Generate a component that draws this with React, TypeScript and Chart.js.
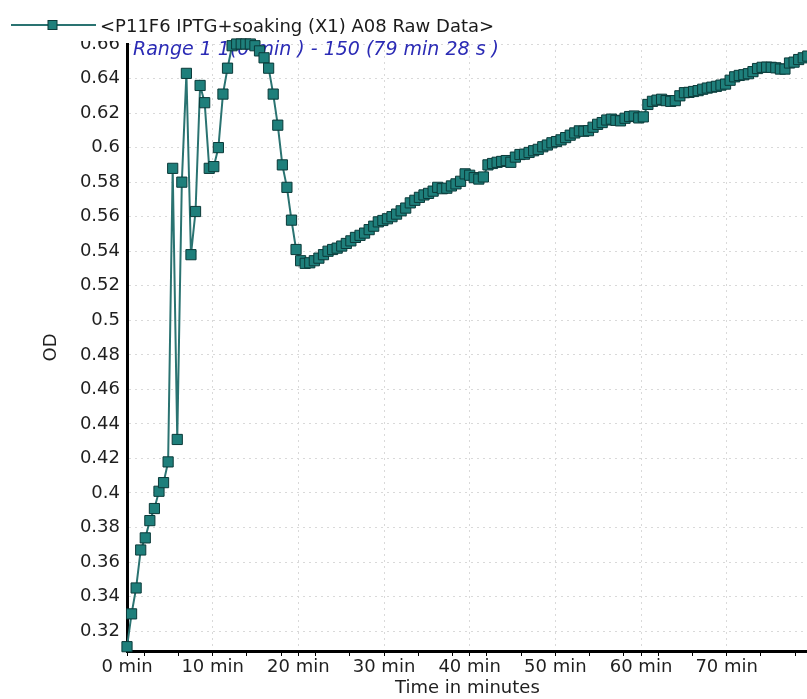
import React, { useEffect, useRef } from 'react';
import { Chart, registerables } from 'chart.js';

Chart.register(...registerables);

const seriesLabel = '<P11F6 IPTG+soaking (X1) A08 Raw Data>';
const rangeLabel = 'Range 1 1(0 min ) - 150 (79 min 28 s )';
const xTitle = 'Time in minutes';
const yTitle = 'OD';

// sample times in seconds (reads 1..150)
const timeSec = [
  0, 32, 64, 96, 128, 160, 192, 224, 256, 288,
  320, 352, 384, 416, 448, 480, 512, 544, 576, 608,
  640, 672, 704, 736, 768, 800, 832, 864, 896, 928,
  960, 992, 1024, 1056, 1088, 1120, 1152, 1184, 1216, 1248,
  1280, 1312, 1344, 1376, 1408, 1440, 1472, 1504, 1536, 1568,
  1600, 1632, 1664, 1696, 1728, 1760, 1792, 1824, 1856, 1888,
  1920, 1952, 1984, 2016, 2048, 2080, 2112, 2144, 2176, 2208,
  2240, 2272, 2304, 2336, 2368, 2400, 2432, 2464, 2496, 2528,
  2560, 2592, 2624, 2656, 2688, 2720, 2752, 2784, 2816, 2848,
  2880, 2912, 2944, 2976, 3008, 3040, 3072, 3104, 3136, 3168,
  3200, 3232, 3264, 3296, 3328, 3360, 3392, 3424, 3456, 3488,
  3520, 3552, 3584, 3616, 3648, 3680, 3712, 3744, 3776, 3808,
  3840, 3872, 3904, 3936, 3968, 4000, 4032, 4064, 4096, 4128,
  4160, 4192, 4224, 4256, 4288, 4320, 4352, 4384, 4416, 4448,
  4480, 4512, 4544, 4576, 4608, 4640, 4672, 4704, 4736, 4768,
];

const odValues = [
  0.311, 0.330, 0.345, 0.367, 0.374, 0.384, 0.391, 0.401, 0.406, 0.418,
  0.588, 0.431, 0.580, 0.643, 0.538, 0.563, 0.636, 0.626, 0.588, 0.589,
  0.600, 0.631, 0.646, 0.659, 0.660, 0.660, 0.660, 0.660, 0.659, 0.656,
  0.652, 0.646, 0.631, 0.613, 0.590, 0.577, 0.558, 0.541, 0.5345, 0.533,
  0.5333, 0.5345, 0.536, 0.538, 0.540, 0.541, 0.5418, 0.543, 0.5445, 0.546,
  0.548, 0.5492, 0.5505, 0.5525, 0.5545, 0.557, 0.5578, 0.5588, 0.560, 0.5615,
  0.5634, 0.565, 0.568, 0.5695, 0.5712, 0.5726, 0.5735, 0.5748, 0.577, 0.5762,
  0.5765, 0.5778, 0.579, 0.5805, 0.5848, 0.584, 0.5826, 0.5818, 0.583, 0.590,
  0.5908, 0.5915, 0.592, 0.5925, 0.5915, 0.5945, 0.596, 0.5962, 0.5972, 0.5982,
  0.599, 0.6005, 0.6015, 0.6028, 0.6035, 0.6045, 0.6058, 0.6072, 0.6085, 0.6097,
  0.6095, 0.6098, 0.6118, 0.6135, 0.6145, 0.616, 0.6165, 0.6158, 0.6155, 0.617,
  0.618, 0.6183, 0.6172, 0.6178, 0.625, 0.6268, 0.6275, 0.628, 0.6272, 0.6268,
  0.6272, 0.630, 0.6318, 0.632, 0.6325, 0.633, 0.6338, 0.6345, 0.635, 0.6355,
  0.6362, 0.6368, 0.639, 0.641, 0.6418, 0.6422, 0.6428, 0.644, 0.6458, 0.6465,
  0.6466, 0.6465, 0.6462, 0.6455, 0.6455, 0.649, 0.6495, 0.651, 0.652, 0.653,
];

const yTicks = [0.32, 0.34, 0.36, 0.38, 0.4, 0.42, 0.44, 0.46, 0.48, 0.5, 0.52, 0.54, 0.56, 0.58, 0.6, 0.62, 0.64, 0.66];
const xMajorTicks = [0, 10, 20, 30, 40, 50, 60, 70];
const xMinorTicks = [2, 6, 14, 18, 22, 26, 34, 38, 42, 46, 54, 58, 62, 66, 74, 78];

const FONT = 'DejaVu Sans';
const LINE = '#2a7371';
const MARK_FILL = '#1e7f7b';
const MARK_EDGE = '#0b3a39';
const GRID = '#d9d9d9';

export default function App() {
  const ref = useRef<HTMLCanvasElement | null>(null);

  useEffect(() => {
    const canvas = ref.current;
    if (!canvas) return;
    const points = timeSec.map((s, i) => ({ x: s / 60, y: odValues[i] }));

    const overlay = {
      id: 'overlay',
      beforeDatasetsDraw(chart: any) {
        const ctx = chart.ctx;
        ctx.save();
        ctx.font = `italic 19px "${FONT}"`;
        ctx.fillStyle = '#2b2bb5';
        ctx.textBaseline = 'middle';
        ctx.textAlign = 'left';
        ctx.fillText(rangeLabel, 133, 50);
        ctx.restore();
      },
      afterDraw(chart: any) {
        const ctx = chart.ctx;
        ctx.save();
        ctx.fillStyle = '#ffffff';
        ctx.fillRect(0, 0, 122, 41);
        ctx.fillRect(0, 0, chart.width, 38);
        // legend line + marker
        ctx.strokeStyle = LINE;
        ctx.lineWidth = 2;
        ctx.beginPath();
        ctx.moveTo(11, 25);
        ctx.lineTo(96, 25);
        ctx.stroke();
        ctx.fillStyle = MARK_FILL;
        ctx.strokeStyle = MARK_EDGE;
        ctx.lineWidth = 1;
        ctx.fillRect(48, 20.5, 9, 9);
        ctx.strokeRect(48, 20.5, 9, 9);
        ctx.font = `18px "${FONT}"`;
        ctx.fillStyle = '#1a1a1a';
        ctx.textBaseline = 'middle';
        ctx.textAlign = 'left';
        ctx.fillText(seriesLabel, 100, 27);
        ctx.restore();
      },
    };

    const tickFont = { family: FONT, size: 18 };

    const chart = new Chart(canvas, {
      type: 'line',
      data: {
        datasets: [
          {
            label: seriesLabel,
            data: points,
            borderColor: LINE,
            borderWidth: 2,
            pointStyle: 'rect',
            pointRadius: 7.2,
            pointBorderWidth: 1,
            pointBackgroundColor: MARK_FILL,
            pointBorderColor: MARK_EDGE,
            tension: 0,
            clip: { left: 10, top: 6, right: 10, bottom: 10 },
          } as any,
        ],
      },
      options: {
        animation: false,
        responsive: false,
        devicePixelRatio: 1,
        layout: { padding: { left: 0, top: 44, right: 6, bottom: 0 } },
        plugins: { legend: { display: false }, tooltip: { enabled: false } },
        scales: {
          x: {
            type: 'linear',
            min: 0,
            max: timeSec[timeSec.length - 1] / 60,
            afterBuildTicks: (s: any) => {
              const vals = [...xMajorTicks, ...xMinorTicks].sort((a, b) => a - b);
              s.ticks = vals.map((v) => ({ value: v }));
            },
            afterFit: (s: any) => {
              s.height = 48;
            },
            ticks: {
              autoSkip: false,
              maxRotation: 0,
              minRotation: 0,
              padding: 1,
              font: tickFont,
              color: '#1f1f1f',
              callback: (v: any) => (xMajorTicks.includes(Number(v)) ? `${v} min` : ''),
            },
            grid: {
              color: (c: any) =>
                c.tick && xMajorTicks.includes(c.tick.value) && c.tick.value !== 0 ? GRID : 'rgba(0,0,0,0)',
              tickColor: '#000',
              tickLength: 5,
              tickWidth: 1,
              lineWidth: 1,
              drawTicks: true,
            },
            border: { display: true, color: '#000', width: 3, dash: [2, 4] },
            title: {
              display: true,
              text: xTitle,
              font: tickFont,
              color: '#1f1f1f',
              padding: { top: 0, bottom: 0 },
            },
          },
          y: {
            type: 'linear',
            min: 0.3085,
            max: 0.66,
            afterBuildTicks: (s: any) => {
              s.ticks = yTicks.map((v) => ({ value: v }));
            },
            afterFit: (s: any) => {
              s.width = 127;
            },
            ticks: {
              padding: 7,
              font: tickFont,
              color: '#1f1f1f',
              callback: (v: any) => String(parseFloat(Number(v).toFixed(2))),
            },
            grid: { color: GRID, drawTicks: false, lineWidth: 1 },
            border: { display: true, color: '#000', width: 3, dash: [2, 4] },
            title: {
              display: true,
              text: yTitle,
              font: tickFont,
              color: '#1f1f1f',
              padding: { top: 41, bottom: 0 },
            },
          },
        },
      } as any,
      plugins: [overlay],
    });

    return () => chart.destroy();
  }, []);

  return (
    <div
      style={{
        position: 'fixed',
        left: 0,
        top: 0,
        width: 807,
        height: 699,
        overflow: 'hidden',
        background: '#ffffff',
      }}
    >
      <canvas ref={ref} width={816} height={699} style={{ display: 'block', width: 816, height: 699 }} />
    </div>
  );
}
